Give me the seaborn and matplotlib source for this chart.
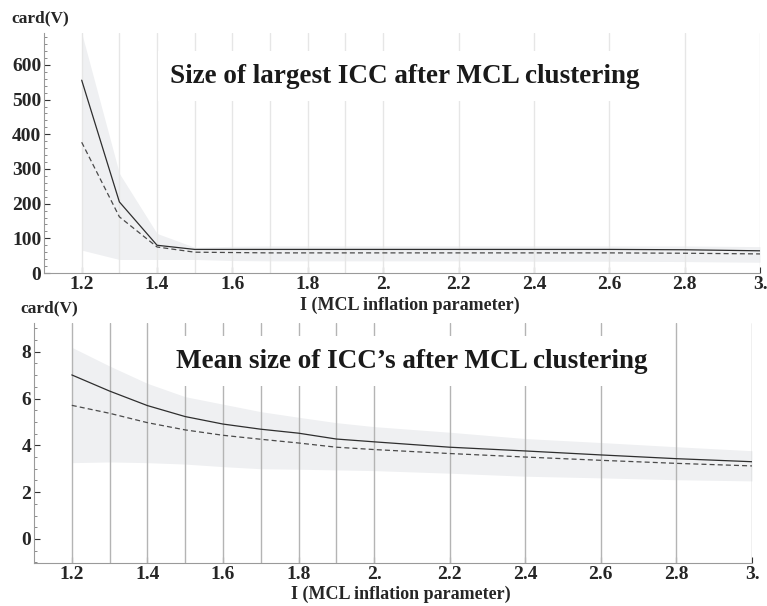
import numpy as np
import pandas as pd
import matplotlib
matplotlib.use("Agg")
import matplotlib.pyplot as plt
import seaborn as sns
from matplotlib.ticker import MultipleLocator

# inflation parameter values (x)
inflation = [1.2, 1.3, 1.4, 1.5, 1.6, 1.7, 1.8, 1.9, 2.0, 2.2, 2.4, 2.6, 2.8, 3.0]

# top panel: size of largest ICC
largest_solid = [556, 205, 80, 68, 68, 68, 68, 68, 68, 68, 68, 68, 67, 64]
largest_dashed = [377, 162, 75, 60, 59, 58, 58, 58, 58, 58, 58, 58, 57, 55]
largest_upper = [692, 287, 114, 74, 77, 78, 78, 78, 78, 78, 78, 78, 78, 76]
largest_lower = [66, 39, 39, 39, 36, 35, 35, 35, 35, 35, 34, 34, 33, 31]

# bottom panel: mean size of ICC's
mean_solid = [7.01, 6.32, 5.70, 5.23, 4.91, 4.69, 4.52, 4.27, 4.15, 3.92, 3.76, 3.59, 3.43, 3.30]
mean_dashed = [5.71, 5.37, 4.97, 4.66, 4.43, 4.26, 4.10, 3.92, 3.82, 3.65, 3.50, 3.36, 3.23, 3.12]
mean_upper = [8.19, 7.39, 6.65, 6.08, 5.76, 5.44, 5.20, 4.97, 4.80, 4.56, 4.29, 4.12, 3.94, 3.77]
mean_lower = [3.26, 3.29, 3.26, 3.20, 3.09, 3.00, 2.98, 2.95, 2.92, 2.81, 2.68, 2.61, 2.53, 2.48]

sns.set_style("white")
plt.rcParams['font.family'] = ['Liberation Serif', 'DejaVu Serif']
plt.rcParams['font.weight'] = 'bold'

W, H = 767, 606
fig = plt.figure(figsize=(W / 100, H / 100), dpi=100)
ax_top = fig.add_axes([44 / W, 1 - 273 / H, 716 / W, 240 / H])
ax_bot = fig.add_axes([34 / W, 1 - 563 / H, 718 / W, 240 / H])

band_color = '#eff0f2'
axis_color = '#9a9a9a'


def fmt_x(v):
    s = f"{v:.1f}"
    return s[:-1] if s.endswith('0') else s


def draw_panel(ax, solid, dashed, upper, lower, title, grid_color, ylim, major, minor,
               title_xy, label_xy, ylab_px):
    df = pd.DataFrame({'I': inflation, 'solid': solid, 'dashed': dashed})
    ax.fill_between(inflation, lower, upper, color=band_color, lw=0, zorder=1)
    for x in inflation:
        ax.axvline(x, color=grid_color, lw=1.0, zorder=1.5)
    sns.lineplot(data=df, x='I', y='solid', ax=ax, color='#2e2e2e', lw=0.9, zorder=3)
    sns.lineplot(data=df, x='I', y='dashed', ax=ax, color='#4a4a4a', lw=0.9,
                 linestyle=(0, (4, 2.5)), zorder=3)
    ax.set_xlim(1.1, 3.0)
    ax.set_ylim(*ylim)
    ax.set_xticks([1.2, 1.4, 1.6, 1.8, 2.0, 2.2, 2.4, 2.6, 2.8, 3.0])
    ax.set_xticklabels([fmt_x(v) for v in ax.get_xticks()])
    ax.yaxis.set_major_locator(MultipleLocator(major))
    ax.yaxis.set_minor_locator(MultipleLocator(minor))
    ax.tick_params(axis='both', which='major', direction='in', length=4, width=0.8,
                   color='#333333', labelsize=14, pad=2)
    ax.tick_params(axis='y', which='minor', direction='in', length=2, width=0.6,
                   color='#777777', left=True)
    ax.tick_params(axis='x', bottom=True)
    ax.tick_params(axis='y', left=True)
    for lab in ax.get_xticklabels() + ax.get_yticklabels():
        lab.set_fontweight('bold')
    for side in ['top', 'right']:
        ax.spines[side].set_visible(False)
    for side in ['left', 'bottom']:
        ax.spines[side].set_color(axis_color)
        ax.spines[side].set_linewidth(0.8)
    ax.set_xlabel('')
    ax.set_ylabel('')
    fig.text(label_xy[0] / W, 1 - label_xy[1] / H, 'I (MCL inflation parameter)',
             fontsize=13, fontweight='bold', ha='center', va='center')
    fig.text(ylab_px[0] / W, 1 - ylab_px[1] / H, 'card(V)', fontsize=12.5,
             fontweight='bold', ha='left', va='center')
    ax.text(title_xy[0], title_xy[1], title, transform=ax.transAxes, fontsize=19.5,
            fontweight='bold', ha='center', va='center', color='#1a1a1a', zorder=2,
            bbox=dict(facecolor='white', edgecolor='none', pad=9))


draw_panel(ax_top, largest_solid, largest_dashed, largest_upper, largest_lower,
           'Size of largest ICC after MCL clustering', '#e6e6e6', (0, 692), 100, 20,
           (0.504, 0.82), (410, 305), (11, 18))
draw_panel(ax_bot, mean_solid, mean_dashed, mean_upper, mean_lower,
           'Mean size of ICC\u2019s after MCL clustering', '#b4b4b4', (-1.03, 9.23), 2, 0.5,
           (0.526, 0.84), (401, 594), (20, 308))

fig.savefig('out.png', dpi=100)
